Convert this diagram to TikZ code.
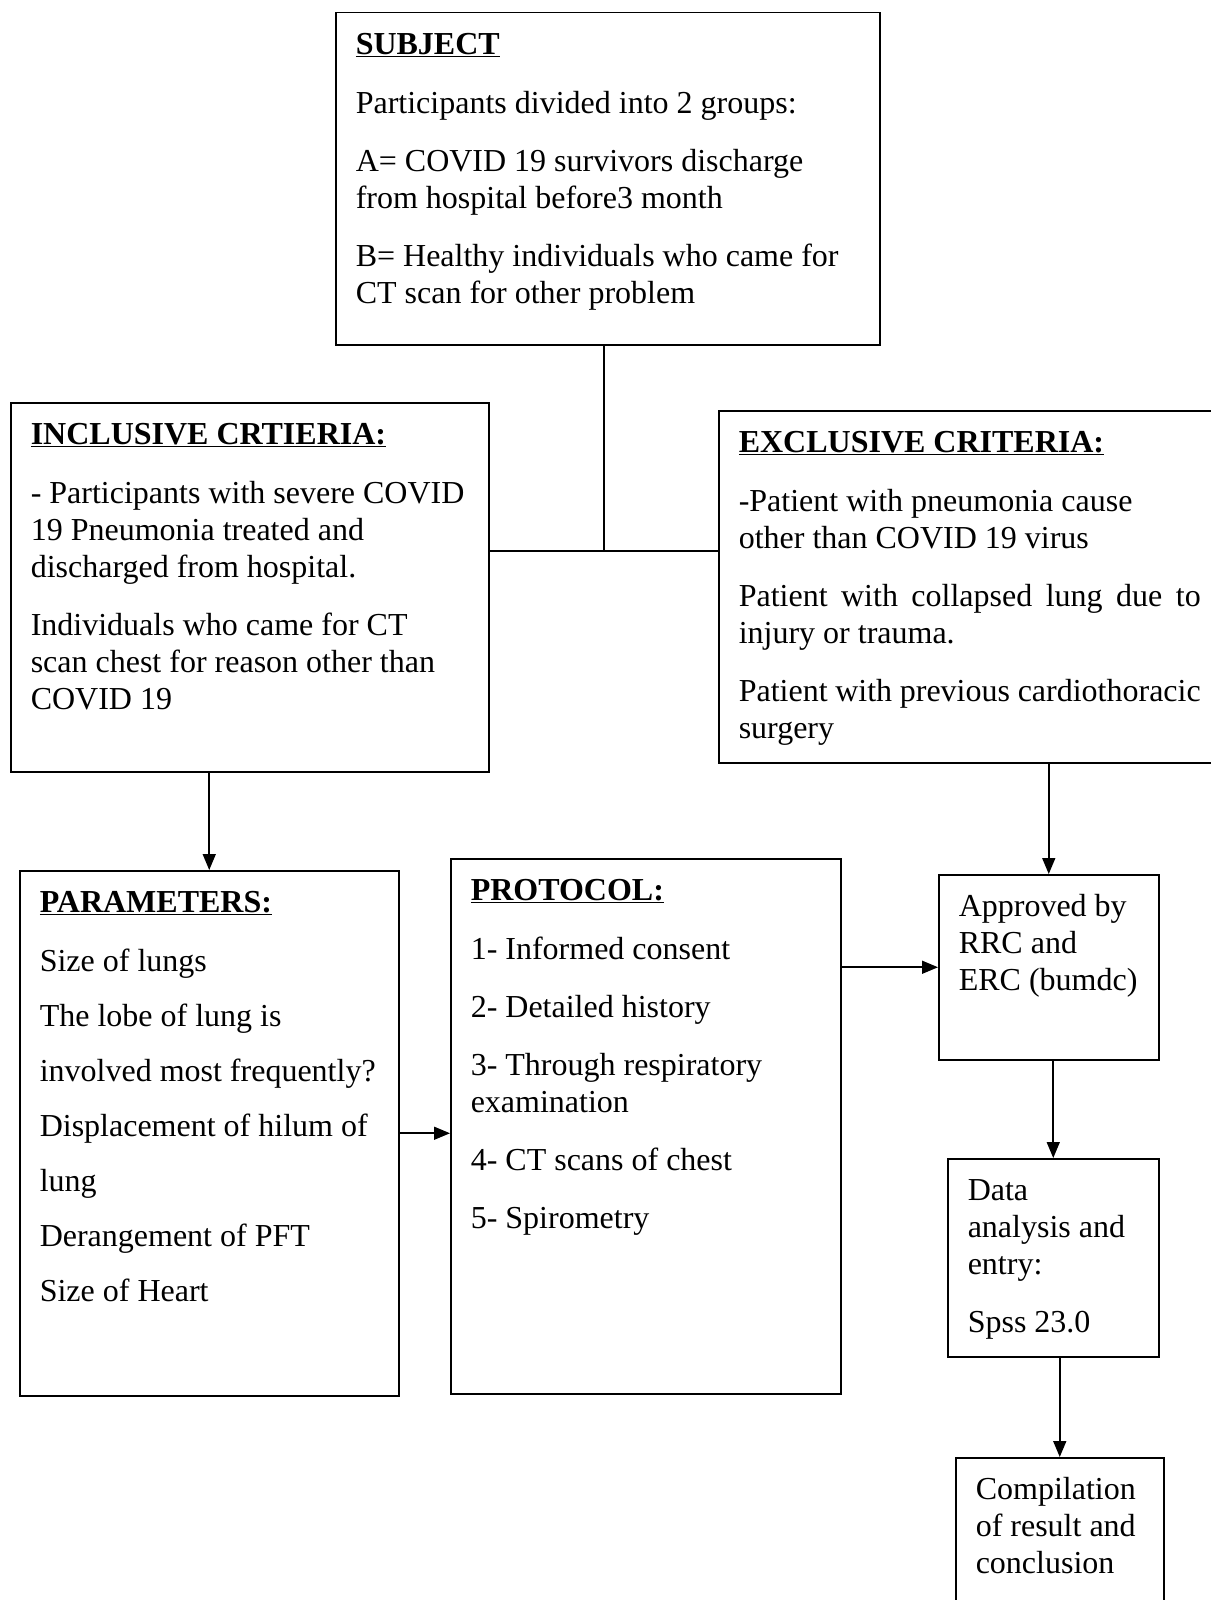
\documentclass[tikz,border=0pt]{standalone}
\usepackage{fontspec}
\setmainfont{Liberation Serif}
\usetikzlibrary{arrows.meta,calc}
\tikzset{
  box/.style  ={draw,line width=1.5pt,anchor=north west,inner xsep=20pt,inner ysep=16pt},
  flow/.style ={-{Triangle[length=16pt,width=13pt]},line width=1.6pt},
  link/.style ={line width=1.6pt},
}
\newcommand{\boxtext}[3]{\parbox[t][#2][t]{#1}{\raggedright\strut #3}}
\newcommand{\hd}[1]{\underline{\textbf{#1}}}

\begin{document}
\begin{tikzpicture}[x=1pt,y=-1pt,font=\fontsize{32}{37}\selectfont]
  \useasboundingbox (0,0) rectangle (1210,1600);
  \node[box] (subj) at (335,12) {\boxtext{504pt}{300pt}{\hd{SUBJECT}\\[22pt]
    Participants divided into 2 groups:\\[21pt]
    A= COVID 19 survivors discharge\\ from hospital before3 month\\[21pt]
    B= Healthy individuals who came for\\ CT scan for other problem}};
  \node[box] (incl) at (10,402) {\boxtext{438pt}{337pt}{\hd{INCLUSIVE CRTIERIA:}\\[22pt]
    - Participants with severe COVID\\ 19 Pneumonia treated and\\ discharged from hospital.\\[21pt]
    Individuals who came for CT\\ scan chest for reason other than\\ COVID 19}};
  \node[box] (excl) at (718,410) {\boxtext{462pt}{320pt}{\hd{EXCLUSIVE CRITERIA:}\\[22pt]
    -Patient with pneumonia cause\\ other than COVID 19 virus\\[21pt]
    \makebox[\linewidth][s]{Patient with collapsed lung due to}\\ injury or trauma.\\[21pt]
    Patient with previous cardiothoracic\\ surgery}};
  \node[box] (params) at (19,870) {\boxtext{339pt}{493pt}{\hd{PARAMETERS:}\\[22pt]
    Size of lungs\\[18pt] The lobe of lung is\\[18pt] involved most frequently?\\[18pt]
    Displacement of hilum of\\[18pt] lung\\[18pt] Derangement of PFT\\[18pt] Size of Heart}};
  \node[box] (proto) at (450,858) {\boxtext{350pt}{503pt}{\hd{PROTOCOL:}\\[22pt]
    1- Informed consent\\[21pt] 2- Detailed history\\[21pt]
    3- Through respiratory\\ examination\\[21pt] 4- CT scans of chest\\[21pt] 5- Spirometry}};
  \node[box] (appr) at (938,874) {\boxtext{180pt}{153pt}{Approved by\\ RRC and\\ ERC (bumdc)}};
  \node[box] (data) at (947,1158) {\boxtext{171pt}{166pt}{Data\\ analysis and\\ entry:\\[21pt] Spss 23.0}};
  \node[box] (comp) at (955,1457) {\boxtext{168pt}{130pt}{Compilation\\ of result and\\ conclusion}};
  % joins and arrows
  \coordinate (jn) at (604,551);
  \draw[link] (subj.south -| jn) -- (jn);
  \draw[link] (incl.east |- jn) -- (excl.west |- jn);
  \draw[flow] (incl.south -| params.north) -- (params.north);
  \draw[flow] (excl.south -| appr.north) -- (appr.north);
  \draw[flow] (params.east) -- (params.east -| proto.west);
  \draw[flow] (proto.east |- appr.west) -- (appr.west);
  \draw[flow] (data.north |- appr.south) -- (data.north);
  \draw[flow] (data.south -| comp.north) -- (comp.north);
\end{tikzpicture}
\end{document}
